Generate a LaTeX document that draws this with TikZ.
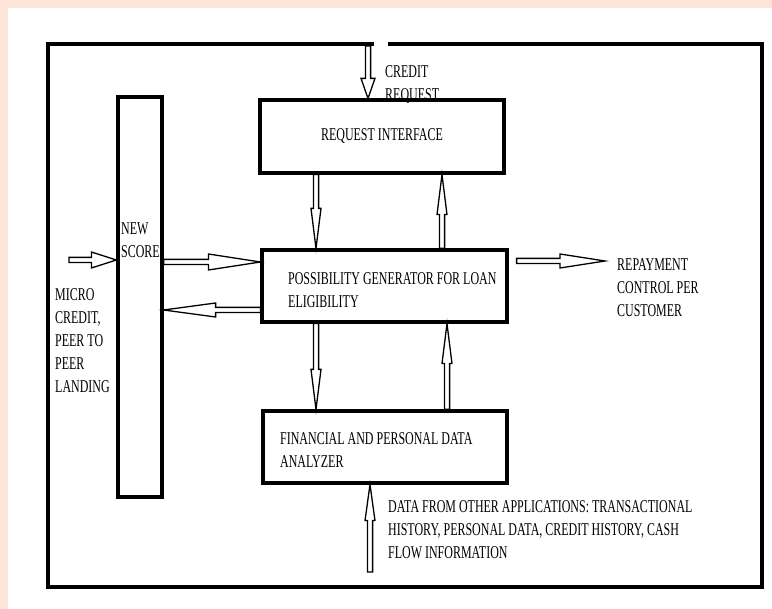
\documentclass[tikz,border=0pt]{standalone}
\usepackage{fontspec}
\setmainfont{Liberation Serif}[FakeStretch=0.665]
\usetikzlibrary{calc}
\definecolor{peach}{RGB}{252,228,214}
\tikzset{
  >= latex,
  bx/.style={rectangle, draw, line width=3.2pt, inner sep=0pt, font=\fontsize{18}{23}\selectfont},
  tx/.style={align=left, anchor=north west, inner sep=0pt, font=\fontsize{18}{23}\selectfont},
  ar/.style 2 args={line width=1.3pt, line join=miter, to path={
    let \p3=($(\tikztotarget)!#1!(\tikztostart)$) in
    ($(\tikztostart)!2.6pt!90:(\tikztotarget)$) -- ($(\p3)!2.6pt!90:(\tikztotarget)$)
    -- ($(\p3)!#2!90:(\tikztotarget)$) -- (\tikztotarget)
    -- ($(\p3)!#2!-90:(\tikztotarget)$) -- ($(\p3)!2.6pt!-90:(\tikztotarget)$)
    -- ($(\tikztostart)!2.6pt!-90:(\tikztotarget)$) -- cycle}}
}
\begin{document}
\begin{tikzpicture}[x=1pt, y=-1pt]
  \fill[peach] (0,0) rectangle (772,609);
  \fill[white] (8,8) rectangle (772,609);
  \useasboundingbox (0,0) rectangle (772,609);
  % outer frame
  \draw[line width=3.4pt] (374,44) -- (48,44) -- (48,587) -- (762,587) -- (762,44) -- (388,44);
  % boxes
  \node[bx, minimum width=44pt, minimum height=400pt] (score) at (140,297) {};
  \node[bx, minimum width=244pt, minimum height=73pt] (req) at (382,136.5) {REQUEST INTERFACE};
  \node[bx, minimum width=245pt, minimum height=72pt] (poss) at (384.5,286) {};
  \node[bx, minimum width=244pt, minimum height=72pt] (fin) at (385,447) {};
  % texts
  \node[tx] (scoreT) at (121,223) {NEW\\SCORE};
  \node[tx] (possT) at (288,272) {POSSIBILITY GENERATOR FOR LOAN\\ELIGIBILITY};
  \node[tx] (finT) at (280,432) {FINANCIAL AND PERSONAL DATA\\ANALYZER};
  \node[tx] (crT) at (385,65) {CREDIT\\REQUEST};
  \node[tx] (mcT) at (55,288) {MICRO\\CREDIT,\\PEER TO\\PEER\\LANDING};
  \node[tx] (rpT) at (617,258) {REPAYMENT\\CONTROL PER\\CUSTOMER};
  \node[tx] (dtT) at (388,500) {DATA FROM OTHER APPLICATIONS: TRANSACTIONAL\\HISTORY, PERSONAL DATA, CREDIT HISTORY, CASH\\FLOW INFORMATION};
  % arrows
  \coordinate (crIn) at (368,46);
  \coordinate (mcIn) at (69,260);
  \coordinate (rpOut) at (605,261);
  \coordinate (dtIn) at (370,572);
  \draw[ar={20pt}{7pt}] (crIn) to (req.north -| crIn);
  \draw[ar={40pt}{5pt}] (req.south -| 316,0) to (poss.north -| 316,0);
  \draw[ar={40pt}{5pt}] (poss.north -| 442,0) to (req.south -| 442,0);
  \draw[ar={25pt}{8pt}] (mcIn) to (score.west |- mcIn);
  \draw[ar={52pt}{8pt}] (score.east |- 0,262) to (poss.west |- 0,262);
  \draw[ar={52pt}{7pt}] (poss.west |- 0,310) to (score.east |- 0,310);
  \draw[ar={45pt}{7pt}] ([xshift=8pt]poss.east |- rpOut) to (rpOut);
  \draw[ar={40pt}{5pt}] (poss.south -| 316,0) to (fin.north -| 316,0);
  \draw[ar={40pt}{5pt}] (fin.north -| 447,0) to (poss.south -| 447,0);
  \draw[ar={36pt}{5pt}] (dtIn) to (fin.south -| dtIn);
\end{tikzpicture}
\end{document}
